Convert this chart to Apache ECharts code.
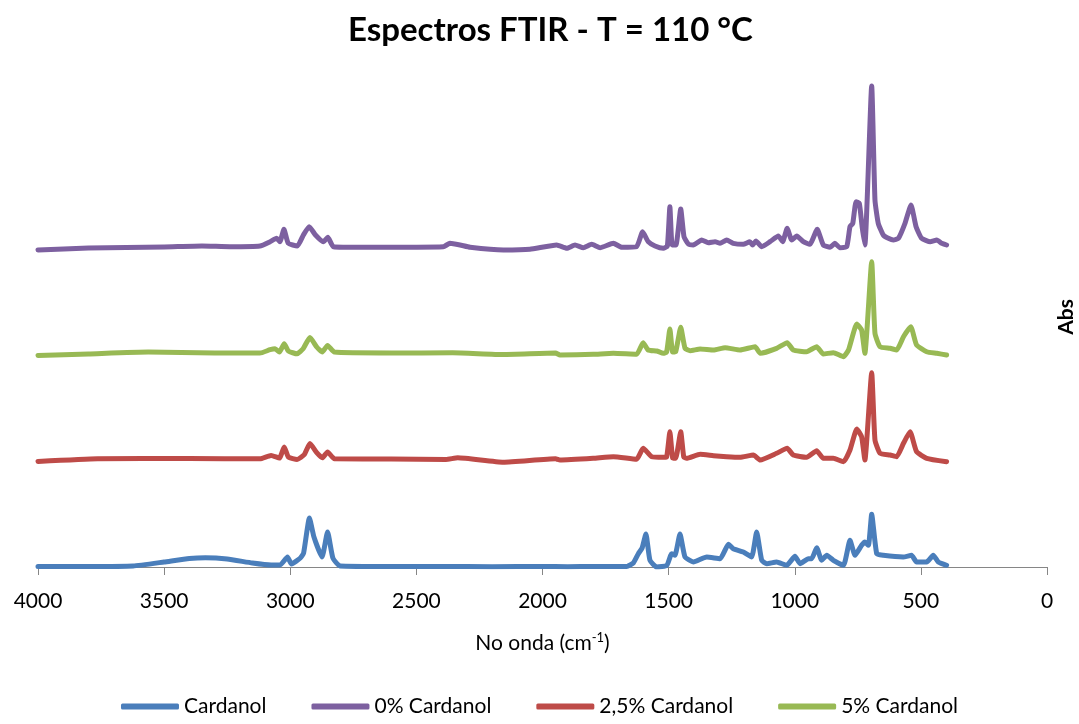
<!DOCTYPE html>
<html>
<head>
<meta charset="utf-8">
<script src="https://cdn.jsdelivr.net/npm/echarts@6/dist/echarts.min.js"></script>
<style>
html,body{margin:0;padding:0;background:#fff;}
#chart{width:1079px;height:724px;}
</style>
</head>
<body>
<div id="chart"></div>
<script>
// ---- DATA (wavenumber cm-1, absorbance with stacking offset) ----
const titleText = 'Espectros FTIR - T = 110 °C';
const seriesNames = ['Cardanol', '0% Cardanol', '2,5% Cardanol', '5% Cardanol'];
const seriesColors = ['#4A7EBB', '#7D60A0', '#BE4B48', '#98B954'];
const xMin = 0, xMax = 4000, xStep = 500;

const cardanol = [
  [4000,0.005],[3800,0.005],[3623,0.01],[3500,0.05],[3400,0.085],[3336,0.093],[3250,0.08],[3150,0.04],
  [3076,0.02],[3040,0.02],[3011,0.10],[2995,0.03],[2960,0.09],[2947,0.14],[2924,0.49],[2906,0.30],
  [2874,0.10],[2852,0.35],[2831,0.09],[2803,0.01],[2600,0.005],[2400,0.005],[2200,0.003],[2000,0.005],
  [1900,0.003],[1800,0.006],[1666,0.005],[1640,0.04],[1620,0.133],[1605,0.19],[1590,0.33],[1574,0.067],
  [1547,0.0],[1507,0.017],[1488,0.133],[1475,0.117],[1455,0.33],[1435,0.10],[1402,0.05],[1349,0.10],
  [1296,0.083],[1263,0.227],[1244,0.183],[1204,0.15],[1171,0.10],[1151,0.35],[1131,0.067],[1111,0.033],
  [1072,0.05],[1032,0.017],[999,0.107],[979,0.033],[946,0.083],[933,0.083],[913,0.193],[893,0.067],
  [873,0.117],[847,0.067],[807,0.017],[781,0.267],[761,0.117],[735,0.217],[722,0.25],[708,0.217],
  [695,0.527],[675,0.133],[649,0.117],[570,0.10],[537,0.117],[517,0.05],[477,0.05],[451,0.117],
  [431,0.05],[398,0.017]
];

const pct0 = [
  [4000,3.17],[3800,3.19],[3500,3.20],[3350,3.21],[3239,3.203],[3120,3.21],[3080,3.253],[3054,3.287],
  [3041,3.253],[3025,3.377],[3008,3.237],[2972,3.21],[2948,3.32],[2925,3.403],[2900,3.32],[2869,3.253],
  [2851,3.297],[2829,3.203],[2710,3.197],[2393,3.203],[2367,3.237],[2327,3.22],[2287,3.197],[2155,3.17],
  [2050,3.177],[1944,3.22],[1904,3.187],[1871,3.22],[1838,3.193],[1805,3.227],[1772,3.193],[1719,3.237],
  [1686,3.197],[1627,3.203],[1603,3.353],[1581,3.253],[1554,3.21],[1521,3.187],[1505,3.21],[1495,3.603],
  [1486,3.22],[1471,3.22],[1452,3.58],[1439,3.303],[1422,3.23],[1402,3.22],[1369,3.27],[1343,3.243],
  [1316,3.253],[1296,3.237],[1270,3.27],[1244,3.237],[1204,3.227],[1178,3.253],[1167,3.22],[1154,3.26],
  [1131,3.203],[1098,3.253],[1065,3.31],[1048,3.253],[1030,3.387],[1012,3.27],[992,3.31],[966,3.253],
  [940,3.227],[911,3.377],[887,3.22],[860,3.197],[841,3.237],[821,3.193],[794,3.203],[781,3.403],
  [770,3.437],[757,3.653],[744,3.637],[733,3.403],[722,3.22],[695,4.81],[682,3.67],[669,3.437],
  [649,3.32],[629,3.287],[609,3.27],[589,3.287],[563,3.437],[539,3.62],[519,3.403],[497,3.287],
  [463,3.253],[437,3.27],[417,3.237],[398,3.22]
];

const pct25 = [
  [4000,1.055],[3764,1.082],[3400,1.085],[3120,1.082],[3076,1.116],[3043,1.089],[3024,1.20],[3007,1.099],
  [2973,1.075],[2945,1.122],[2922,1.234],[2895,1.143],[2873,1.092],[2852,1.15],[2825,1.082],[2600,1.08],
  [2383,1.075],[2336,1.092],[2155,1.048],[1948,1.082],[1931,1.07],[1799,1.087],[1719,1.103],[1627,1.077],
  [1601,1.187],[1567,1.103],[1521,1.097],[1508,1.10],[1495,1.353],[1484,1.09],[1472,1.087],[1452,1.353],
  [1440,1.10],[1429,1.087],[1375,1.127],[1322,1.113],[1270,1.103],[1217,1.097],[1164,1.12],[1137,1.07],
  [1072,1.137],[1030,1.187],[1006,1.12],[953,1.097],[913,1.163],[887,1.087],[847,1.087],[807,1.053],
  [781,1.17],[754,1.38],[735,1.303],[722,1.07],[695,1.943],[682,1.27],[662,1.137],[622,1.12],
  [596,1.103],[569,1.237],[543,1.353],[517,1.153],[477,1.087],[398,1.053]
];

const pct5 = [
  [4000,2.115],[3800,2.13],[3563,2.149],[3300,2.14],[3120,2.139],[3080,2.173],[3060,2.183],[3043,2.15],
  [3024,2.233],[3007,2.159],[2973,2.132],[2949,2.183],[2922,2.294],[2895,2.20],[2873,2.149],[2852,2.216],
  [2825,2.149],[2600,2.14],[2356,2.142],[2155,2.125],[1948,2.139],[1931,2.12],[1799,2.127],[1719,2.137],
  [1627,2.127],[1601,2.243],[1581,2.17],[1547,2.16],[1521,2.137],[1508,2.15],[1495,2.38],[1484,2.15],
  [1472,2.153],[1452,2.397],[1435,2.187],[1415,2.163],[1375,2.18],[1322,2.17],[1276,2.193],[1217,2.17],
  [1157,2.203],[1137,2.137],[1072,2.187],[1030,2.243],[1006,2.17],[953,2.153],[913,2.203],[887,2.13],
  [847,2.143],[807,2.103],[787,2.17],[754,2.43],[735,2.37],[722,2.137],[695,3.053],[682,2.337],
  [662,2.203],[622,2.187],[596,2.17],[569,2.303],[540,2.403],[517,2.22],[477,2.153],[437,2.137],
  [398,2.12]
];

const seriesData = [cardanol, pct0, pct25, pct5];

// ---- CHART ----
const chart = echarts.init(document.getElementById('chart'), null, {renderer: 'canvas'});
const FONT = 'Lato, "Open Sans", sans-serif';

const option = {
  animation: false,
  backgroundColor: '#ffffff',
  color: seriesColors,
  title: {
    text: titleText,
    left: 343,
    top: 9,
    textStyle: {fontFamily: FONT, fontWeight: 'bold', fontSize: 33, color: '#000'}
  },
  grid: {left: 38, right: 32, top: 67, bottom: 157, containLabel: false, outerBoundsMode: 'none'},
  legend: {
    bottom: 2,
    left: 'center',
    icon: 'roundRect',
    itemWidth: 58,
    itemHeight: 6,
    itemGap: 45,
    textStyle: {fontFamily: FONT, fontSize: 21, color: '#000'},
    data: seriesNames
  },
  xAxis: {
    type: 'value',
    inverse: true,
    min: xMin,
    max: xMax,
    interval: xStep,
    name: 'No onda (cm{sup|-1})',
    nameLocation: 'middle',
    nameGap: 64,
    nameTextStyle: {
      fontFamily: FONT, fontSize: 21, color: '#000',
      rich: {sup: {fontFamily: FONT, fontSize: 13, color: '#000', verticalAlign: 'top', padding: [0, 0, 12, 0]}}
    },
    axisLine: {show: true, onZero: false, lineStyle: {color: '#868686', width: 1}},
    axisTick: {show: true, length: 8, inside: false, lineStyle: {color: '#868686', width: 1}},
    axisLabel: {fontFamily: FONT, fontSize: 21, color: '#000', margin: 24, formatter: v => String(v)},
    splitLine: {show: false}
  },
  yAxis: {
    type: 'value',
    min: 0,
    max: 5,
    position: 'right',
    name: 'Abs',
    nameLocation: 'middle',
    nameRotate: 90,
    nameGap: 9,
    nameTextStyle: {fontFamily: FONT, fontWeight: 'bold', fontSize: 21, color: '#000'},
    axisLine: {show: false},
    axisTick: {show: false},
    axisLabel: {show: false},
    splitLine: {show: false}
  },
  series: seriesNames.map((n, i) => ({
    name: n,
    type: 'line',
    data: seriesData[i],
    showSymbol: false,
    symbol: 'none',
    smooth: 0.15,
    lineStyle: {width: 5, color: seriesColors[i], cap: 'round', join: 'round'},
    itemStyle: {color: seriesColors[i]},
    z: 2 + i
  }))
};
chart.setOption(option);
</script>
</body>
</html>
